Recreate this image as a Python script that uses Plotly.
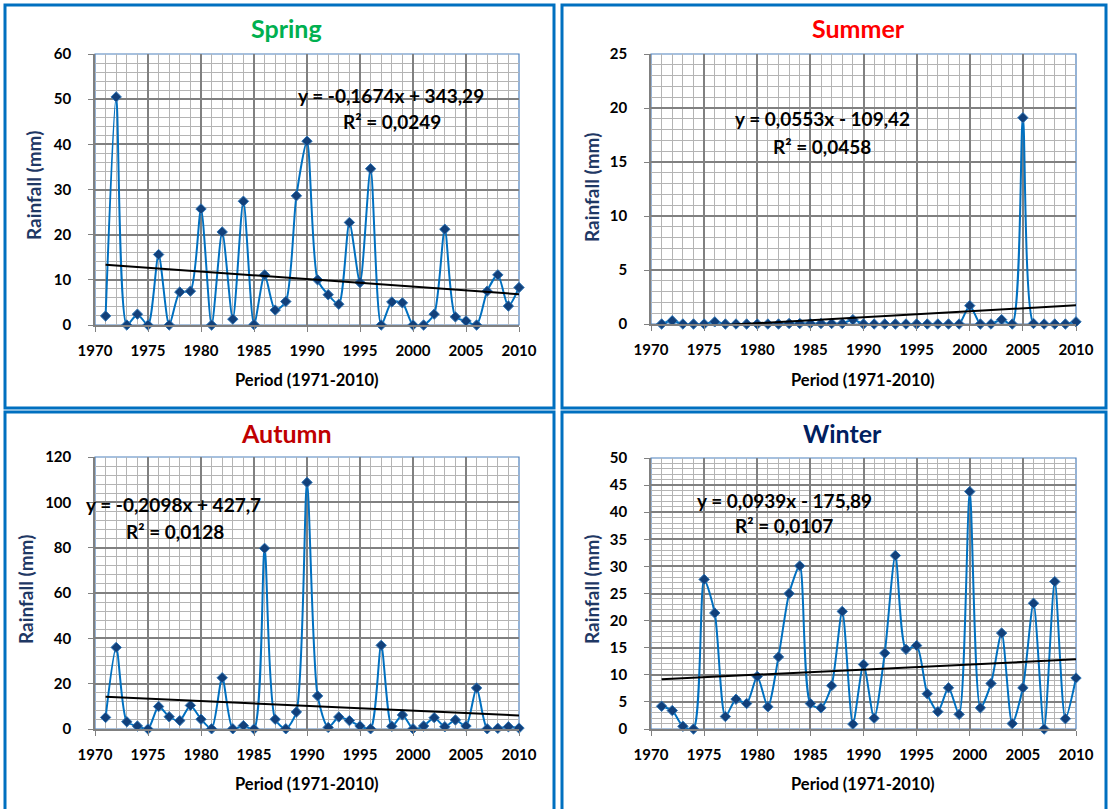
import plotly.graph_objects as go

# ---------------- data ----------------
years = list(range(1971, 2011))

spring = [2.0, 50.5, 0.0, 2.4, 0.0, 15.6, 0.0, 7.3, 7.5, 25.7,
          0.0, 20.6, 1.3, 27.4, 0.1, 11.1, 3.3, 5.2, 28.6, 40.7,
          10.0, 6.7, 4.6, 22.7, 9.4, 34.6, 0.0, 5.1, 4.9, 0.0,
          0.0, 2.4, 21.2, 1.8, 0.9, 0.0, 7.5, 11.1, 4.2, 8.3]

summer = [0.0, 0.3, 0.0, 0.0, 0.0, 0.2, 0.0, 0.0, 0.0, 0.0,
          0.0, 0.0, 0.05, 0.05, 0.05, 0.05, 0.05, 0.05, 0.4, 0.0,
          0.0, 0.0, 0.0, 0.0, 0.0, 0.0, 0.0, 0.0, 0.0, 1.7,
          0.0, 0.0, 0.4, 0.0, 19.1, 0.05, 0.0, 0.0, 0.0, 0.2]

autumn = [5.1, 36.0, 3.2, 1.3, 0.0, 9.9, 5.4, 3.7, 10.4, 4.3,
          0.1, 22.6, 0.1, 1.5, 0.0, 79.7, 4.3, 0.1, 7.5, 108.8,
          14.6, 0.7, 5.3, 3.7, 1.3, 0.1, 36.9, 1.2, 6.2, 0.1,
          1.3, 5.0, 1.0, 4.0, 1.3, 18.1, 0.1, 0.3, 1.0, 0.4]

winter = [4.2, 3.4, 0.5, 0.0, 27.6, 21.4, 2.3, 5.5, 4.7, 9.7,
          4.1, 13.3, 25.0, 30.1, 4.7, 3.9, 8.0, 21.7, 0.9, 11.9,
          2.0, 14.0, 32.0, 14.7, 15.4, 6.5, 3.2, 7.6, 2.7, 43.8,
          3.9, 8.4, 17.7, 1.0, 7.6, 23.2, 0.0, 27.2, 1.9, 9.4]

seasons = ["Spring", "Summer", "Autumn", "Winter"]
season_values = [spring, summer, autumn, winter]
title_colors = ["#00b050", "#ff0000", "#c00000", "#002060"]

trend_slope = [-0.1674, 0.0553, -0.2098, 0.0939]
trend_intercept = [343.29, -109.42, 427.7, -175.89]
equation_text = ["y = -0,1674x + 343,29", "y = 0,0553x - 109,42",
                 "y = -0,2098x + 427,7", "y = 0,0939x - 175,89"]
r2_text = ["R² = 0,0249", "R² = 0,0458", "R² = 0,0128", "R² = 0,0107"]

y_max = [60, 25, 120, 50]
y_major = [10, 5, 20, 5]
y_minor = [2, 1, 4, 1]
x_tick_values = [1970, 1975, 1980, 1985, 1990, 1995, 2000, 2005, 2010]

x_title = "Period (1971-2010)"
y_title = "Rainfall (mm)"

# ---------------- layout (pixels) ----------------
W, H = 1108, 809
FONT = "Lato"


def px(x):
    return x / W


def py(y):
    return 1 - y / H


# plot boxes: left, top, right, bottom
plot_boxes = [(95, 54, 519, 325), (651, 54, 1076, 324),
              (95, 457, 519, 729), (651, 458, 1076, 729)]
panel_boxes = [(5, 5, 554, 408), (562, 5, 1106, 408),
               (5, 412, 554, 814), (562, 412, 1106, 814)]
title_pos = [(286, 28), (858, 28), (286, 433), (842, 433)]
ytitle_pos = [(33, 186), (591, 188), (25, 590), (591, 590)]
xtitle_pos = [(307, 380), (863, 380), (307, 784), (863, 784)]
eq_pos = [(391, 95), (822, 119), (173, 504), (784, 500)]
r2_pos = [(392, 121), (822, 146), (175, 531), (784, 525)]

fig = go.Figure()
shapes = []
annotations = []
layout_axes = {}

for i in range(4):
    n = "" if i == 0 else str(i + 1)
    xa, ya = "x" + n, "y" + n
    l, t, r, b = plot_boxes[i]

    # data series
    fig.add_trace(go.Scatter(
        x=years, y=season_values[i], xaxis=xa, yaxis=ya,
        mode="lines+markers",
        line=dict(color="#0070c0", width=2, shape="spline", smoothing=0.7),
        marker=dict(symbol="diamond", size=8, color="#12407a",
                    line=dict(color="#2e75b6", width=1)),
        cliponaxis=False, showlegend=False, hoverinfo="x+y"))

    # linear trend
    tx = [years[0], years[-1]]
    ty = [trend_slope[i] * v + trend_intercept[i] for v in tx]
    fig.add_trace(go.Scatter(
        x=tx, y=ty, xaxis=xa, yaxis=ya, mode="lines",
        line=dict(color="black", width=2), showlegend=False,
        hoverinfo="skip"))

    layout_axes["xaxis" + n] = dict(
        domain=[px(l), px(r)], anchor=ya, range=[1970, 2010],
        tickmode="array", tickvals=x_tick_values, automargin=False,
        showgrid=True, gridcolor="#808080", gridwidth=1.5,
        minor=dict(dtick=1, tick0=1970, showgrid=True,
                   gridcolor="#b4b4b4", gridwidth=1.2),
        showline=True, linecolor="#808080", linewidth=1.5,
        ticks="outside", ticklen=5, tickcolor="#808080",
        ticklabelstandoff=6,
        tickfont=dict(family=FONT, size=15, color="black", weight="bold"),
        zeroline=False, fixedrange=True)
    layout_axes["yaxis" + n] = dict(
        domain=[py(b), py(t)], anchor=xa, range=[0, y_max[i]],
        dtick=y_major[i], tick0=0, automargin=False,
        showgrid=True, gridcolor="#808080", gridwidth=1.5,
        minor=dict(dtick=y_minor[i], tick0=0, showgrid=True,
                   gridcolor="#b4b4b4", gridwidth=1.2),
        showline=True, linecolor="#808080", linewidth=1.5,
        ticks="outside", ticklen=5, tickcolor="#808080",
        ticklabelstandoff=14,
        tickfont=dict(family=FONT, size=15, color="black", weight="bold"),
        zeroline=False, fixedrange=True)

    # plot area top/right blue border
    shapes.append(dict(type="rect", xref=xa + " domain", yref=ya + " domain",
                       x0=0, x1=1, y0=0, y1=1, layer="below",
                       line=dict(color="#4f81bd", width=1.2)))
    # panel frame
    pl, pt, pr, pb = panel_boxes[i]
    shapes.append(dict(type="rect", xref="paper", yref="paper",
                       x0=px(pl), x1=px(pr), y0=py(pb), y1=py(pt),
                       line=dict(color="#0070c0", width=3)))

    annotations.append(dict(
        text=seasons[i], xref="paper", yref="paper",
        x=px(title_pos[i][0]), y=py(title_pos[i][1]),
        xanchor="center", yanchor="middle", showarrow=False,
        font=dict(family=FONT, size=25, color=title_colors[i], weight="bold")))
    annotations.append(dict(
        text=y_title, xref="paper", yref="paper", textangle=-90,
        x=px(ytitle_pos[i][0]), y=py(ytitle_pos[i][1]),
        xanchor="center", yanchor="middle", showarrow=False,
        font=dict(family=FONT, size=19, color="#1f3864", weight="bold")))
    annotations.append(dict(
        text=x_title, xref="paper", yref="paper",
        x=px(xtitle_pos[i][0]), y=py(xtitle_pos[i][1]),
        xanchor="center", yanchor="middle", showarrow=False,
        font=dict(family=FONT, size=16.5, color="black", weight="bold")))
    annotations.append(dict(
        text=equation_text[i], xref="paper", yref="paper",
        x=px(eq_pos[i][0]), y=py(eq_pos[i][1]),
        xanchor="center", yanchor="middle", showarrow=False,
        font=dict(family=FONT, size=19, color="black", weight="bold")))
    annotations.append(dict(
        text=r2_text[i], xref="paper", yref="paper",
        x=px(r2_pos[i][0]), y=py(r2_pos[i][1]),
        xanchor="center", yanchor="middle", showarrow=False,
        font=dict(family=FONT, size=19, color="black", weight="bold")))

fig.update_layout(
    width=W, height=H,
    margin=dict(l=0, r=0, t=0, b=0, pad=0, autoexpand=False),
    paper_bgcolor="white", plot_bgcolor="white",
    shapes=shapes, annotations=annotations,
    showlegend=False,
    **layout_axes)

fig.write_html("out.html",
               config={"displayModeBar": False},
               post_script="document.body.style.margin='0px';"
                           "document.body.style.overflow='hidden';")
